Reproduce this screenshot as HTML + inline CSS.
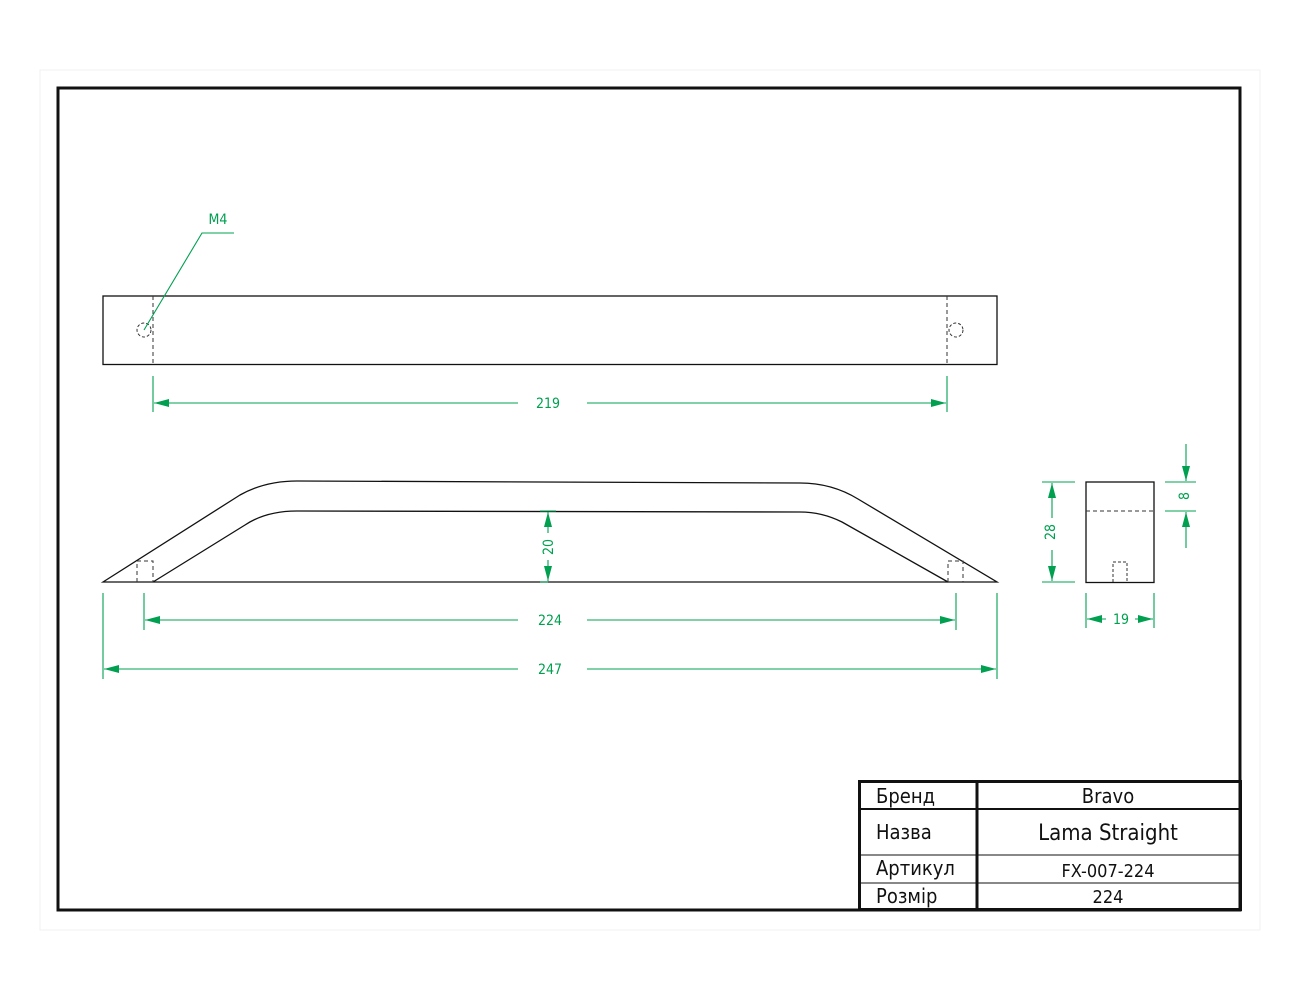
<!DOCTYPE html>
<html><head><meta charset="utf-8"><style>
html,body{margin:0;padding:0;background:#fff}
svg{display:block}
text{font-family:"DejaVu Sans Condensed","Liberation Sans","DejaVu Sans",sans-serif}
</style></head><body>
<svg width="1300" height="1000" viewBox="0 0 1300 1000" xmlns="http://www.w3.org/2000/svg">
<defs>
<marker id="a" viewBox="0 0 15 8" refX="15" refY="4" markerWidth="15" markerHeight="8" orient="auto-start-reverse" markerUnits="userSpaceOnUse"><path d="M0,0 L15,4 L0,8 z" fill="#00a050"/></marker>
</defs>
<rect x="40" y="70" width="1220" height="860" fill="none" stroke="#f2f2f2" stroke-width="1"/>
<rect x="58" y="88" width="1182" height="822" fill="none" stroke="#111" stroke-width="3"/>

<!-- top view -->
<rect x="103" y="296" width="894" height="68.5" fill="none" stroke="#111" stroke-width="1.3"/>
<line x1="153" y1="296" x2="153" y2="365" stroke="#333" stroke-dasharray="4,3"/>
<line x1="947" y1="296" x2="947" y2="365" stroke="#333" stroke-dasharray="4,3"/>
<circle cx="144" cy="330" r="7" fill="none" stroke="#333" stroke-dasharray="3,2"/>
<circle cx="956" cy="330" r="7" fill="none" stroke="#333" stroke-dasharray="3,2"/>
<g stroke="#00a050" stroke-width="1.1" fill="none">
<polyline points="144,330 202,233 234,233"/>
<line x1="153" y1="376" x2="153" y2="412"/>
<line x1="947" y1="376" x2="947" y2="412"/>
<line x1="518" y1="403" x2="154" y2="403" marker-end="url(#a)"/>
<line x1="587" y1="403" x2="946" y2="403" marker-end="url(#a)"/>
</g>
<g fill="#00a050" font-size="14" text-anchor="middle">
<text x="218" y="224">M4</text>
<text x="548" y="408">219</text>
<text x="550" y="625">224</text>
<text x="550" y="674">247</text>
<text x="1121" y="624">19</text>
<text transform="translate(553,547) rotate(-90)">20</text>
<text transform="translate(1055,532) rotate(-90)">28</text>
<text transform="translate(1189,496) rotate(-90)">8</text>
</g>

<!-- side view -->
<g fill="none" stroke="#111" stroke-width="1.3">
<path d="M103,582 L240,495 Q265,481 297,481 L800,483 Q832,483 858,499 L997,582 Z"/>
<path d="M153,582 L245,525 Q266,511 297,511 L800,512 Q822,512 842,522 L948,582"/>
</g>
<g fill="none" stroke="#333" stroke-dasharray="4,3">
<polyline points="137,582 137,561 153,561 153,582"/>
<polyline points="948,582 948,561 963,561 963,582"/>
</g>
<g stroke="#00a050" stroke-width="1.1" fill="none">
<line x1="540" y1="511" x2="556" y2="511"/>
<line x1="540" y1="582" x2="548" y2="582"/>
<line x1="548" y1="533" x2="548" y2="512" marker-end="url(#a)"/>
<line x1="548" y1="560" x2="548" y2="581" marker-end="url(#a)"/>
<line x1="103" y1="593" x2="103" y2="679"/>
<line x1="997" y1="593" x2="997" y2="679"/>
<line x1="144" y1="593" x2="144" y2="630"/>
<line x1="956" y1="593" x2="956" y2="630"/>
<line x1="518" y1="620" x2="145" y2="620" marker-end="url(#a)"/>
<line x1="587" y1="620" x2="955" y2="620" marker-end="url(#a)"/>
<line x1="518" y1="669" x2="104" y2="669" marker-end="url(#a)"/>
<line x1="587" y1="669" x2="996" y2="669" marker-end="url(#a)"/>
</g>

<!-- end view -->
<rect x="1086" y="482" width="68" height="100.5" fill="none" stroke="#111" stroke-width="1.3"/>
<line x1="1086" y1="511" x2="1154" y2="511" stroke="#333" stroke-dasharray="4,3"/>
<polyline points="1113,582 1113,562 1127,562 1127,582" fill="none" stroke="#333" stroke-dasharray="3,2"/>
<g stroke="#00a050" stroke-width="1.1" fill="none">
<line x1="1042" y1="482" x2="1075" y2="482"/>
<line x1="1042" y1="582" x2="1075" y2="582"/>
<line x1="1052" y1="518" x2="1052" y2="483" marker-end="url(#a)"/>
<line x1="1052" y1="550" x2="1052" y2="581" marker-end="url(#a)"/>
<line x1="1165" y1="482" x2="1196" y2="482"/>
<line x1="1165" y1="511" x2="1196" y2="511"/>
<line x1="1186" y1="444" x2="1186" y2="481" marker-end="url(#a)"/>
<line x1="1186" y1="548" x2="1186" y2="512" marker-end="url(#a)"/>
<line x1="1086" y1="593" x2="1086" y2="628"/>
<line x1="1154" y1="593" x2="1154" y2="628"/>
<line x1="1106" y1="619" x2="1087" y2="619" marker-end="url(#a)"/>
<line x1="1135" y1="619" x2="1153" y2="619" marker-end="url(#a)"/>
</g>

<!-- title block -->
<g stroke="#111" fill="none">
<rect x="859.5" y="781.5" width="381" height="128" stroke-width="3"/>
<line x1="977" y1="781" x2="977" y2="910" stroke-width="3"/>
<line x1="859" y1="809" x2="1241" y2="809" stroke-width="2"/>
<line x1="859" y1="855" x2="1241" y2="855" stroke-width="1"/>
<line x1="859" y1="883" x2="1241" y2="883" stroke-width="1"/>
</g>
<g fill="#111" font-size="20">
<text x="876" y="803">Бренд</text>
<text x="876" y="839">Назва</text>
<text x="876" y="875">Артикул</text>
<text x="876" y="903">Розмір</text>
</g>
<g fill="#111" text-anchor="middle">
<text x="1108" y="803" font-size="20">Bravo</text>
<text x="1108" y="840" font-size="22">Lama Straight</text>
<text x="1108" y="877" font-size="18">FX-007-224</text>
<text x="1108" y="903" font-size="18">224</text>
</g>
</svg>
</body></html>
